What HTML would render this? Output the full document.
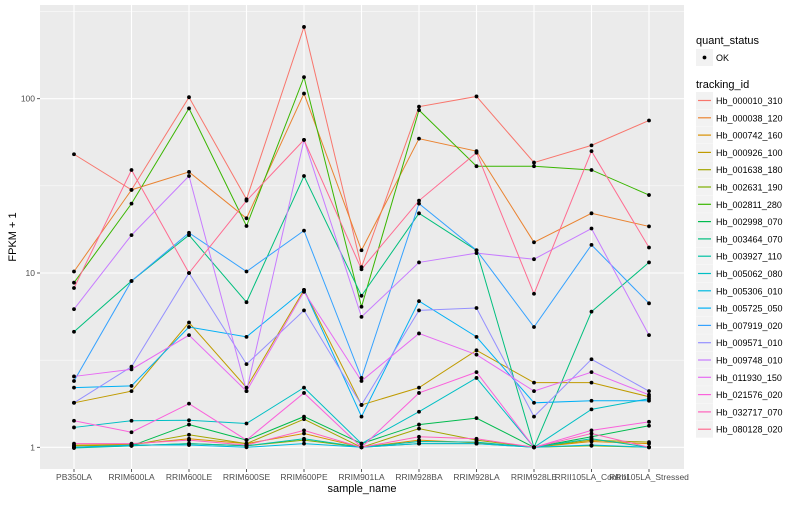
<!DOCTYPE html>
<html><head><meta charset="utf-8"><style>
body{margin:0;background:#fff;font-family:"Liberation Sans",sans-serif}
svg text{font-family:"Liberation Sans",sans-serif}
</style></head><body>
<svg id="chart" width="800" height="500" xmlns="http://www.w3.org/2000/svg">
<rect x="40" y="5" width="644" height="464" fill="#EBEBEB"/>
<g id="grid"></g><g id="series"></g><g id="axes"></g><g id="legend"></g>
</svg>
<script>
const categories=["PB350LA","RRIM600LA","RRIM600LE","RRIM600SE","RRIM600PE","RRIM901LA","RRIM928BA","RRIM928LA","RRIM928LE","RRII105LA_Control","RRII105LA_Stressed"];
const seriesNames=["Hb_000010_310","Hb_000038_120","Hb_000742_160","Hb_000926_100","Hb_001638_180","Hb_002631_190","Hb_002811_280","Hb_002998_070","Hb_003464_070","Hb_003927_110","Hb_005062_080","Hb_005306_010","Hb_005725_050","Hb_007919_020","Hb_009571_010","Hb_009748_010","Hb_011930_150","Hb_021576_020","Hb_032717_070","Hb_080128_020"];
const colors=["#F8766D","#EA8331","#D89000","#C09B00","#A3A500","#7CAE00","#39B600","#00BB4E","#00BF7D","#00C1A3","#00BFC4","#00BAE0","#00B0F6","#35A2FF","#9590FF","#C77CFF","#E76BF3","#FA62DB","#FF62BC","#FF6C91"];
const s000010=[48,30,102,26.5,258,10.8,90,103,43,54,75];
const s000038=[10.2,30,38,20.6,107,13.5,59,50,15,22,18.5];
const s000742=[1.03,1.04,1.12,1.05,1.2,1.0,1.1,1.06,1.0,1.08,1.05];
const s000926=[1.8,2.1,5.2,2.2,8,1.75,2.2,3.6,2.35,2.35,1.95];
const s001638=[1.02,1.03,1.18,1.05,1.45,1.0,1.28,1.1,1.0,1.1,1.07];
const s002631=[1.0,1.02,1.05,1.02,1.1,1.0,1.05,1.05,1.0,1.02,1.0];
const s002811=[8.8,25,88,18.6,133,6.4,86,41,41,39,28];
const s002998=[1.0,1.02,1.35,1.1,1.5,1.05,1.35,1.47,1.0,1.15,1.33];
const s003464=[4.6,9,16.5,6.8,36,7.4,22,13.5,1.0,6,11.5];
const s003927=[0.99,1.02,1.05,1.02,1.12,1.0,1.08,1.07,1.0,1.12,1.0];
const s005062=[1.3,1.42,1.43,1.37,2.2,1.05,1.6,2.5,1.0,1.65,1.9];
const s005306=[1.0,1.03,1.03,1.0,1.05,1.0,1.05,1.05,1.0,1.03,1.0];
const s005725=[2.2,2.25,4.9,4.3,8,1.5,6.9,4.3,1.8,1.85,1.85];
const s007919=[2.4,9,17,10.2,17.5,2.5,25,13.5,4.9,14.5,6.7];
const s009571=[1.8,2.9,10,3.0,6.1,1.75,6.1,6.3,1.5,3.2,2.1];
const s009748=[6.2,16.5,36,2.1,58,5.6,11.5,13,12,18,4.4];
const s011930=[2.55,2.8,4.4,2.1,7.8,2.4,4.5,3.4,2.1,2.7,2.0];
const s021576=[1.42,1.22,1.78,1.1,2.05,1.0,2.05,2.7,1.0,1.25,1.4];
const s032717=[1.05,1.05,1.1,1.03,1.25,1.0,1.15,1.12,1.0,1.2,1.0];
const s080128=[8.2,39,10,26,58,10.5,26,49,7.6,50,14];
const allSeries=[s000010,s000038,s000742,s000926,s001638,s002631,s002811,s002998,s003464,s003927,s005062,s005306,s005725,s007919,s009571,s009748,s011930,s021576,s032717,s080128];
const yTicks=[1,10,100];
const yTickLabels=["1","10","100"];

const NS="http://www.w3.org/2000/svg";
function xScale(i){return 74+i*57.5;}
function yScale(v){return 447.3-Math.log10(v)*174.3;}
function mk(tag,attrs,parent){const e=document.createElementNS(NS,tag);for(const k in attrs)e.setAttribute(k,attrs[k]);parent.appendChild(e);return e;}
const grid=document.getElementById('grid'),ser=document.getElementById('series'),axes=document.getElementById('axes'),leg=document.getElementById('legend');
// minor grid
[0.5,1.5,2.5].forEach(l=>{const y=yScale(Math.pow(10,l));const g=mk('line',{x1:40,x2:684,y1:y,y2:y,stroke:'#fff','stroke-width':0.5},grid);

});
yTicks.forEach((v,i)=>{const y=yScale(v);const g=mk('line',{x1:40,x2:684,y1:y,y2:y,stroke:'#fff','stroke-width':1.1},grid);


const t=mk('line',{x1:37,x2:40,y1:y,y2:y,stroke:'#333','stroke-width':0.8},axes);


const tx=mk('text',{x:35,y:y+3,'text-anchor':'end','font-size':8.5,fill:'#4d4d4d'},axes);tx.textContent=yTickLabels[i];

});
categories.forEach((c,i)=>{const x=xScale(i);const g=mk('line',{x1:x,x2:x,y1:5,y2:469,stroke:'#fff','stroke-width':1.1},grid);


const t=mk('line',{x1:x,x2:x,y1:469,y2:472,stroke:'#333','stroke-width':0.8},axes);


const tx=mk('text',{x:x,y:480,'text-anchor':'middle','font-size':8.5,fill:'#4d4d4d'},axes);tx.textContent=c;

});
allSeries.forEach((vals,si)=>{const pts=vals.map((v,i)=>xScale(i)+','+yScale(v)).join(' ');
const p=mk('polyline',{points:pts,fill:'none',stroke:colors[si],'stroke-width':1},ser);

});
allSeries.forEach((vals,si)=>{vals.forEach((v,i)=>{const c=mk('circle',{cx:xScale(i),cy:yScale(v),r:1.9,fill:'#000'},ser);

});});
// axis titles
let t=mk('text',{x:362,y:492,'text-anchor':'middle','font-size':11,fill:'#000'},axes);t.textContent='sample_name';


t=mk('text',{x:0,y:0,'text-anchor':'middle','font-size':11,fill:'#000',transform:'translate(16,237) rotate(-90)'},axes);t.textContent='FPKM + 1';


// legend
t=mk('text',{x:696,y:44,'font-size':11,fill:'#000'},leg);t.textContent='quant_status';


let k=mk('rect',{x:696,y:49,width:17,height:17,fill:'#F2F2F2'},leg);


k=mk('circle',{cx:704.5,cy:57.5,r:1.9,fill:'#000'},leg);


t=mk('text',{x:716,y:61,'font-size':9,fill:'#000'},leg);t.textContent='OK';


t=mk('text',{x:696,y:88,'font-size':11,fill:'#000'},leg);t.textContent='tracking_id';


seriesNames.forEach((n,i)=>{const y=92+i*17.3;
const r=mk('rect',{x:696,y:y,width:17,height:17,fill:'#F2F2F2'},leg);


const l=mk('line',{x1:698,x2:711,y1:y+8.5,y2:y+8.5,stroke:colors[i],'stroke-width':1.2},leg);


const tx=mk('text',{x:716,y:y+12,'font-size':9,fill:'#000'},leg);tx.textContent=n;

});
</script>
</body></html>
